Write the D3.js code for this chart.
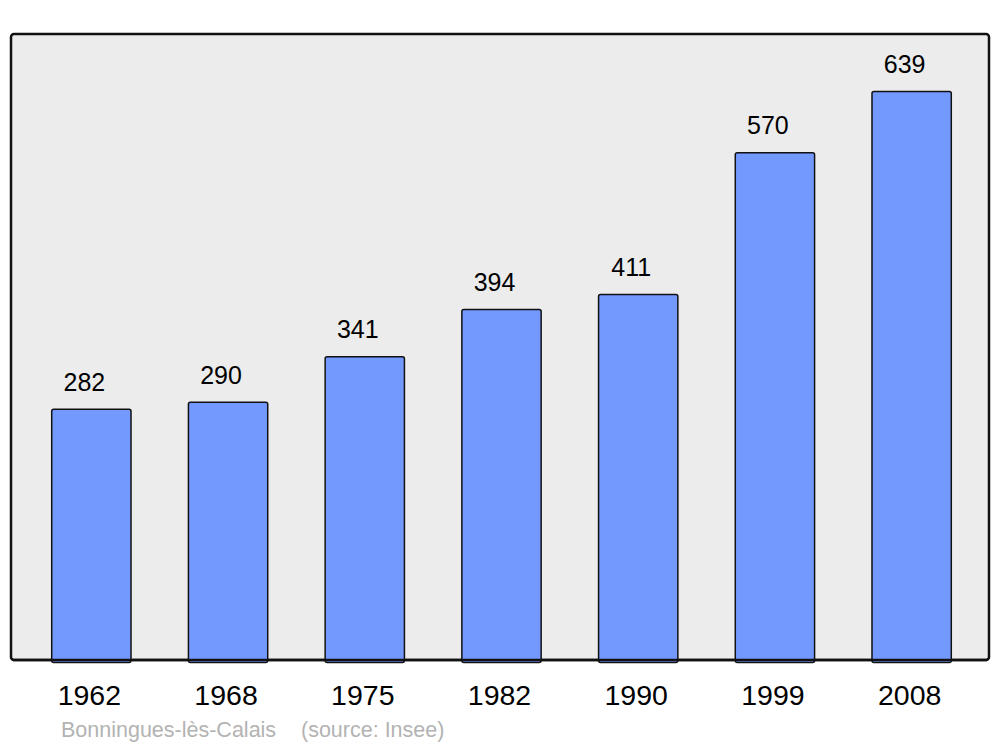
<!DOCTYPE html>
<html>
<head>
<meta charset="utf-8">
<script src="https://cdn.jsdelivr.net/npm/d3@7"></script>
<style>
html,body{margin:0;padding:0;background:#fff;}
svg{display:block;font-family:"Liberation Sans",Arial,sans-serif;}
</style>
</head>
<body>
<svg id="chart" width="1000" height="747"></svg>
<script>
const years = ["1962","1968","1975","1982","1990","1999","2008"];
const population = [282, 290, 341, 394, 411, 570, 639];
const sourceLabel = "Bonningues-lès-Calais";
const sourceNote = "(source: Insee)";

const svg = d3.select("#chart");
const panel = {x0: 11, x1: 989, y0: 34, y1: 660};

svg.append("rect")
  .attr("x", panel.x0).attr("y", panel.y0)
  .attr("width", panel.x1 - panel.x0).attr("height", panel.y1 - panel.y0)
  .attr("rx", 3).attr("ry", 3)
  .attr("fill", "#ececec").attr("stroke", "#111").attr("stroke-width", 2.5);

const x = d3.scaleBand().domain(years).range([23, 980]).paddingInner(0.42).paddingOuter(0.21);
const y = d3.scaleLinear().domain([0, d3.max(population) * 1.1]).range([panel.y1, panel.y0]);

const data = years.map((yr, i) => ({year: yr, value: population[i]}));

svg.append("g").selectAll("rect").data(data).join("rect")
  .attr("x", d => x(d.year))
  .attr("y", d => y(d.value) + 0.5)
  .attr("width", x.bandwidth())
  .attr("height", d => y(0) - y(d.value) + 2)
  .attr("rx", 2).attr("ry", 2)
  .attr("fill", "#7399ff").attr("stroke", "#111").attr("stroke-width", 1.5);

// redraw panel bottom border over bars
svg.append("line")
  .attr("x1", panel.x0 + 2).attr("x2", panel.x1 - 2)
  .attr("y1", panel.y1).attr("y2", panel.y1)
  .attr("stroke", "#111").attr("stroke-width", 2.5);

svg.append("g").selectAll("text").data(data).join("text")
  .attr("x", d => x(d.year) + x.bandwidth() / 2 - 7)
  .attr("y", d => y(d.value) - 18)
  .attr("text-anchor", "middle")
  .attr("font-size", 25)
  .attr("fill", "#000")
  .text(d => d.value);

const xAxis = d3.axisBottom(x).tickSize(0).tickPadding(0);
const ax = svg.append("g").attr("transform", `translate(-2,${panel.y1})`).call(xAxis);
ax.select(".domain").remove();
ax.selectAll("text")
  .attr("dy", null)
  .attr("y", 45)
  .attr("font-size", 28.5)
  .attr("font-family", "Liberation Sans, Arial, sans-serif")
  .attr("fill", "#000");

svg.append("text").attr("x", 61).attr("y", 737)
  .attr("font-size", 21.5).attr("fill", "#b3b3b3").text(sourceLabel);
svg.append("text").attr("x", 301).attr("y", 737)
  .attr("font-size", 21.5).attr("fill", "#b3b3b3").text(sourceNote);
</script>
</body>
</html>
